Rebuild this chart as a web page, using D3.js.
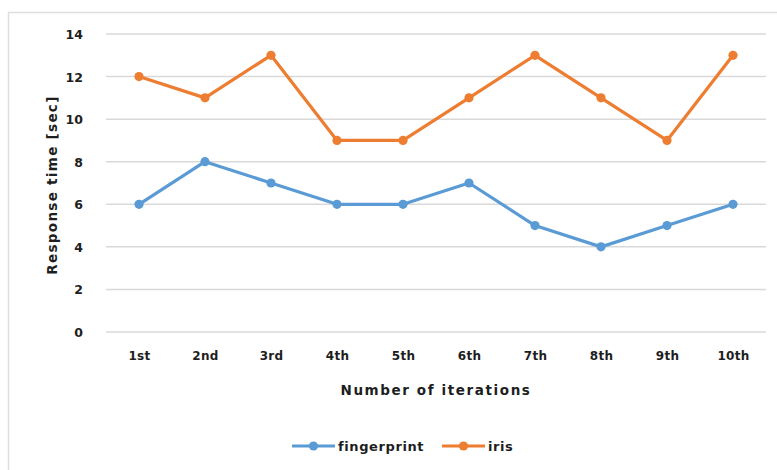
<!DOCTYPE html>
<html>
<head>
<meta charset="utf-8">
<script src="https://cdn.jsdelivr.net/npm/d3@7"></script>
<style>
  html, body { margin: 0; padding: 0; background: #fff; }
  svg { display: block; }
  text { font-family: "DejaVu Sans", sans-serif; font-weight: bold; fill: #1e1e1e; }
</style>
</head>
<body>
<svg id="chart" width="777" height="470"></svg>
<script>
// Response time per iteration for two biometric methods
const iterations = ["1st", "2nd", "3rd", "4th", "5th", "6th", "7th", "8th", "9th", "10th"];
const fingerprint = [6, 8, 7, 6, 6, 7, 5, 4, 5, 6];
const iris = [12, 11, 13, 9, 9, 11, 13, 11, 9, 13];
const yTicks = [0, 2, 4, 6, 8, 10, 12, 14];
const seriesNames = ["fingerprint", "iris"];
const seriesColors = ["#5B9BD5", "#ED7D31"];

const svg = d3.select("#chart");

// Outer chart frame (top and left edges visible)
svg.append("rect")
  .attr("x", 8.5).attr("y", 12.5)
  .attr("width", 790).attr("height", 480)
  .attr("fill", "none")
  .attr("stroke", "#dedede")
  .attr("stroke-width", 1.5);

const plot = { left: 106, right: 766, top: 34, bottom: 332 };

const x = d3.scalePoint().domain(iterations).range([plot.left, plot.right]).padding(0.5);
const y = d3.scaleLinear().domain([0, 14]).range([plot.bottom, plot.top]);

// Horizontal gridlines
svg.append("g")
  .selectAll("line")
  .data(yTicks)
  .join("line")
  .attr("x1", plot.left).attr("x2", plot.right)
  .attr("y1", d => y(d)).attr("y2", d => y(d))
  .attr("stroke", "#d9d9d9")
  .attr("stroke-width", 1.5);

// Y axis tick labels
const yAxis = d3.axisLeft(y).tickValues(yTicks).tickSize(0).tickPadding(0);
svg.append("g")
  .attr("transform", `translate(${plot.left - 23},0)`)
  .call(yAxis)
  .call(g => g.select(".domain").remove())
  .selectAll("text")
  .attr("font-size", 12.5)
  .attr("font-family", "Liberation Sans, Arial, sans-serif")
  .attr("fill", "#1e1e1e")
  .attr("dy", "0.36em");

// X axis tick labels
const xAxis = d3.axisBottom(x).tickSize(0).tickPadding(0);
svg.append("g")
  .attr("transform", `translate(0,${plot.bottom + 24})`)
  .call(xAxis)
  .call(g => g.select(".domain").remove())
  .selectAll("text")
  .attr("font-size", 12)
  .attr("font-family", null)
  .attr("fill", "#1e1e1e")
  .attr("letter-spacing", 0.3)
  .attr("dy", "0.36em");

// Axis titles
svg.append("text")
  .attr("x", 436).attr("y", 390)
  .attr("text-anchor", "middle")
  .attr("dy", "0.36em")
  .attr("font-size", 13.5)
  .attr("letter-spacing", 1.6)
  .text("Number of iterations");

svg.append("text")
  .attr("transform", "translate(52,185) rotate(-90)")
  .attr("text-anchor", "middle")
  .attr("dy", "0.36em")
  .attr("font-size", 13.5)
  .attr("letter-spacing", 1.3)
  .text("Response time [sec]");

// Series lines and markers
const line = d3.line().x((d, i) => x(iterations[i])).y(d => y(d));
[fingerprint, iris].forEach((values, k) => {
  svg.append("path")
    .datum(values)
    .attr("d", line)
    .attr("fill", "none")
    .attr("stroke", seriesColors[k])
    .attr("stroke-width", 3.2)
    .attr("stroke-linejoin", "round")
    .attr("stroke-linecap", "round");
  svg.append("g")
    .selectAll("circle")
    .data(values)
    .join("circle")
    .attr("cx", (d, i) => x(iterations[i]))
    .attr("cy", d => y(d))
    .attr("r", 4.6)
    .attr("fill", seriesColors[k]);
});

// Legend
const legendX = [292, 442];
const legendY = 446;
seriesNames.forEach((name, k) => {
  const g = svg.append("g").attr("transform", `translate(${legendX[k]},${legendY})`);
  g.append("line")
    .attr("x1", 0).attr("x2", 43)
    .attr("stroke", seriesColors[k])
    .attr("stroke-width", 3.2);
  g.append("circle").attr("cx", 21.5).attr("r", 4.6).attr("fill", seriesColors[k]);
  g.append("text")
    .attr("x", 46).attr("dy", "0.36em")
    .attr("font-size", 13)
    .attr("letter-spacing", 0.6)
    .text(name);
});
</script>
</body>
</html>
